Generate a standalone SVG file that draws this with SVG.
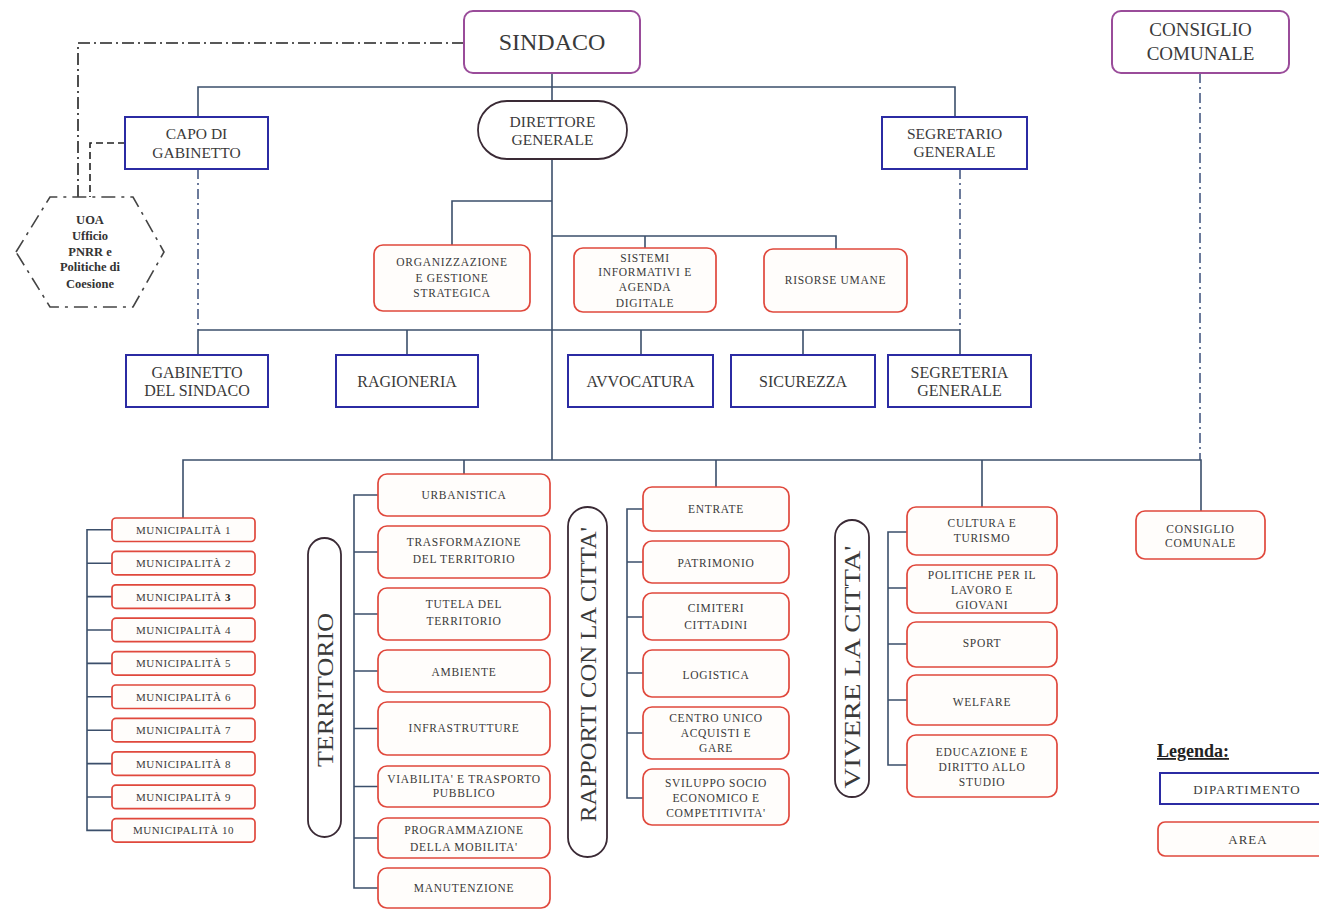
<svg xmlns="http://www.w3.org/2000/svg" width="1319" height="910" viewBox="0 0 1319 910">
<style>
.bg{fill:#ffffff}
.conn{stroke:#3b4f6b;stroke-width:1.6;fill:none}
.dd{stroke:#222;stroke-width:1.6;fill:none;stroke-dasharray:12,4,2,4}
.ddb{stroke:#3b4f7b;stroke-width:1.5;fill:none;stroke-dasharray:10,4,2,4}
.dash{stroke:#222;stroke-width:1.6;fill:none;stroke-dasharray:7,4}
.dept{fill:#ffffff;stroke:#2b2ba3;stroke-width:2}
.area{fill:#fffdfb;stroke:#e0483c;stroke-width:1.7}
.top{fill:#ffffff;stroke:#9a4c9a;stroke-width:2}
.pill{fill:#ffffff;stroke:#3a2a35;stroke-width:1.8}
.hex{fill:#ffffff;stroke:#444;stroke-width:1.6;stroke-dasharray:14,6,3,6}
.t{font-family:"Liberation Serif","Times New Roman",serif;fill:#3a3a3a;text-anchor:middle;dominant-baseline:central}
.big{font-size:24px}
.h1{font-size:19px}
.h2{font-size:15.5px}
.h3{font-size:16px}
.s{font-size:11.5px;letter-spacing:0.7px}
.m{font-size:11px;letter-spacing:0.6px}
.rot{font-size:24px}
.hx{font-size:12.5px;font-weight:bold;fill:#333}
.leg{font-size:18px;font-weight:bold;fill:#222;text-decoration:underline;font-family:"Liberation Serif","Times New Roman",serif}
.l{font-size:13px;letter-spacing:1px}
</style>
<rect class="bg" x="0" y="0" width="1319" height="910"/>

<g id="connectors">
  <!-- dash-dot from Sindaco to UOA -->
  <path class="dd" d="M464,43 H78 V197"/>
  <path class="dash" d="M125,143 H90 V197"/>
  <!-- top tree -->
  <path class="conn" d="M552,73 V101"/>
  <path class="conn" d="M198,117 V87 H955 V117"/>
  <path class="conn" d="M552,159 V460"/>
  <path class="conn" d="M552,201 H452 V245"/>
  <path class="conn" d="M552,236 H836 V249"/>
  <path class="conn" d="M645,236 V248"/>
  <!-- dash-dot verticals -->
  <path class="ddb" d="M198,169 V330"/>
  <path class="ddb" d="M960,169 V330"/>
  <path class="ddb" d="M1200,73 V460"/>
  <!-- middle row -->
  <path class="conn" d="M198,330 H960"/>
  <path class="conn" d="M198,330 V355 M407,330 V355 M641,330 V355 M803,330 V355 M960,330 V355"/>
  <!-- lower row -->
  <path class="conn" d="M183,518 V460 H1201 V511"/>
  <path class="conn" d="M464,460 V474 M716,460 V487 M982,460 V507"/>
  <!-- municipalita bracket -->
  <path class="conn" d="M112,529.8 H87 V830.4 H112 M87,563.2 H112 M87,596.6 H112 M87,630 H112 M87,663.4 H112 M87,696.8 H112 M87,730.2 H112 M87,763.6 H112 M87,797 H112"/>
  <!-- territorio bracket -->
  <path class="conn" d="M378,495 H354 V888 H378 M354,552 H378 M354,614 H378 M354,671 H378 M354,728.5 H378 M354,786.5 H378 M354,838 H378"/>
  <!-- rapporti bracket -->
  <path class="conn" d="M643,509 H627 V798 H643 M627,562 H643 M627,617 H643 M627,673 H643 M627,733 H643"/>
  <!-- vivere bracket -->
  <path class="conn" d="M907,532 H888 V765 H907 M888,588 H907 M888,644 H907 M888,700 H907"/>
</g>

<g id="sindaco">
  <rect class="top" x="464" y="11" width="176" height="62" rx="9"/>
  <text class="t big" x="552" y="42">SINDACO</text>
</g>
<g id="consiglio-comunale-top">
  <rect class="top" x="1112" y="11" width="177" height="62" rx="9"/>
  <text class="t h1" x="1200.5" y="29">CONSIGLIO</text>
  <text class="t h1" x="1200.5" y="53">COMUNALE</text>
</g>
<g id="uoa">
  <polygon class="hex" points="16,252 50,197 133,197 164,252 133,307 50,307"/>
  <text class="t hx" x="90" y="220">UOA</text>
  <text class="t hx" x="90" y="236">Ufficio</text>
  <text class="t hx" x="90" y="252">PNRR e</text>
  <text class="t hx" x="90" y="267">Politiche di</text>
  <text class="t hx" x="90" y="284">Coesione</text>
</g>
<g id="capo-gabinetto">
  <rect class="dept" x="125" y="117" width="143" height="52"/>
  <text class="t h2" x="196.5" y="133">CAPO DI</text>
  <text class="t h2" x="196.5" y="152">GABINETTO</text>
</g>
<g id="direttore-generale">
  <rect class="pill" x="478" y="101" width="149" height="58" rx="29"/>
  <text class="t h2" x="552.5" y="121">DIRETTORE</text>
  <text class="t h2" x="552.5" y="139">GENERALE</text>
</g>
<g id="segretario-generale">
  <rect class="dept" x="882" y="117" width="145" height="52"/>
  <text class="t h2" x="954.5" y="133">SEGRETARIO</text>
  <text class="t h2" x="954.5" y="151">GENERALE</text>
</g>

<g id="organizzazione">
  <rect class="area" x="374" y="245" width="156" height="66" rx="9"/>
  <text class="t s" x="452" y="262">ORGANIZZAZIONE</text>
  <text class="t s" x="452" y="278">E GESTIONE</text>
  <text class="t s" x="452" y="293">STRATEGICA</text>
</g>
<g id="sistemi-informativi">
  <rect class="area" x="574" y="248" width="142" height="64" rx="9"/>
  <text class="t s" x="645" y="258">SISTEMI</text>
  <text class="t s" x="645" y="272">INFORMATIVI E</text>
  <text class="t s" x="645" y="287">AGENDA</text>
  <text class="t s" x="645" y="303">DIGITALE</text>
</g>
<g id="risorse-umane">
  <rect class="area" x="764" y="249" width="143" height="63" rx="9"/>
  <text class="t s" x="835.5" y="280">RISORSE UMANE</text>
</g>

<g id="gabinetto-sindaco">
  <rect class="dept" x="126" y="355" width="142" height="52"/>
  <text class="t h3" x="197" y="372">GABINETTO</text>
  <text class="t h3" x="197" y="390">DEL SINDACO</text>
</g>
<g id="ragioneria">
  <rect class="dept" x="336" y="355" width="142" height="52"/>
  <text class="t h3" x="407" y="381">RAGIONERIA</text>
</g>
<g id="avvocatura">
  <rect class="dept" x="568" y="355" width="145" height="52"/>
  <text class="t h3" x="640.5" y="381">AVVOCATURA</text>
</g>
<g id="sicurezza">
  <rect class="dept" x="731" y="355" width="144" height="52"/>
  <text class="t h3" x="803" y="381">SICUREZZA</text>
</g>
<g id="segreteria-generale">
  <rect class="dept" x="888" y="355" width="143" height="52"/>
  <text class="t h3" x="959.5" y="372">SEGRETERIA</text>
  <text class="t h3" x="959.5" y="390">GENERALE</text>
</g>

<g id="municipalita">
  <g id="mun1"><rect class="area" x="112" y="518" width="143" height="23.5" rx="4"/><text class="t m" x="183.5" y="529.8">MUNICIPALITÀ 1</text></g>
  <g id="mun2"><rect class="area" x="112" y="551.4" width="143" height="23.5" rx="4"/><text class="t m" x="183.5" y="563.2">MUNICIPALITÀ 2</text></g>
  <g id="mun3"><rect class="area" x="112" y="584.8" width="143" height="23.5" rx="4"/><text class="t m" x="183.5" y="596.6">MUNICIPALITÀ <tspan font-weight="bold" fill="#222">3</tspan></text></g>
  <g id="mun4"><rect class="area" x="112" y="618.2" width="143" height="23.5" rx="4"/><text class="t m" x="183.5" y="630">MUNICIPALITÀ 4</text></g>
  <g id="mun5"><rect class="area" x="112" y="651.6" width="143" height="23.5" rx="4"/><text class="t m" x="183.5" y="663.4">MUNICIPALITÀ 5</text></g>
  <g id="mun6"><rect class="area" x="112" y="685" width="143" height="23.5" rx="4"/><text class="t m" x="183.5" y="696.8">MUNICIPALITÀ 6</text></g>
  <g id="mun7"><rect class="area" x="112" y="718.4" width="143" height="23.5" rx="4"/><text class="t m" x="183.5" y="730.2">MUNICIPALITÀ 7</text></g>
  <g id="mun8"><rect class="area" x="112" y="751.8" width="143" height="23.5" rx="4"/><text class="t m" x="183.5" y="763.6">MUNICIPALITÀ 8</text></g>
  <g id="mun9"><rect class="area" x="112" y="785.2" width="143" height="23.5" rx="4"/><text class="t m" x="183.5" y="797">MUNICIPALITÀ 9</text></g>
  <g id="mun10"><rect class="area" x="112" y="818.6" width="143" height="23.5" rx="4"/><text class="t m" x="183.5" y="830.4">MUNICIPALITÀ 10</text></g>
</g>

<g id="territorio">
  <rect class="pill" x="308" y="538" width="33" height="299" rx="16.5"/>
  <text class="t rot" transform="translate(325,690) rotate(-90)" x="0" y="0" textLength="154" lengthAdjust="spacingAndGlyphs">TERRITORIO</text>
</g>
<g id="urbanistica"><rect class="area" x="378" y="474" width="172" height="42" rx="9"/><text class="t s" x="464" y="495">URBANISTICA</text></g>
<g id="trasformazione"><rect class="area" x="378" y="526" width="172" height="52" rx="9"/><text class="t s" x="464" y="542">TRASFORMAZIONE</text><text class="t s" x="464" y="559">DEL TERRITORIO</text></g>
<g id="tutela"><rect class="area" x="378" y="588" width="172" height="52" rx="9"/><text class="t s" x="464" y="604">TUTELA DEL</text><text class="t s" x="464" y="621">TERRITORIO</text></g>
<g id="ambiente"><rect class="area" x="378" y="650" width="172" height="42" rx="9"/><text class="t s" x="464" y="672">AMBIENTE</text></g>
<g id="infrastrutture"><rect class="area" x="378" y="702" width="172" height="53" rx="9"/><text class="t s" x="464" y="728">INFRASTRUTTURE</text></g>
<g id="viabilita"><rect class="area" x="378" y="766" width="172" height="41" rx="9"/><text class="t s" x="464" y="779" font-size="10.5px">VIABILITA' E TRASPORTO</text><text class="t s" x="464" y="793" font-size="10.5px">PUBBLICO</text></g>
<g id="programmazione"><rect class="area" x="378" y="818" width="172" height="40" rx="9"/><text class="t s" x="464" y="830">PROGRAMMAZIONE</text><text class="t s" x="464" y="847">DELLA MOBILITA'</text></g>
<g id="manutenzione"><rect class="area" x="378" y="868" width="172" height="40" rx="9"/><text class="t s" x="464" y="888">MANUTENZIONE</text></g>

<g id="rapporti">
  <rect class="pill" x="568" y="507" width="39" height="350" rx="19.5"/>
  <text class="t rot" transform="translate(587.5,674.5) rotate(-90)" x="0" y="0" textLength="295" lengthAdjust="spacingAndGlyphs">RAPPORTI CON LA CITTA'</text>
</g>
<g id="entrate"><rect class="area" x="643" y="487" width="146" height="44" rx="9"/><text class="t s" x="716" y="509">ENTRATE</text></g>
<g id="patrimonio"><rect class="area" x="643" y="541" width="146" height="42" rx="9"/><text class="t s" x="716" y="563">PATRIMONIO</text></g>
<g id="cimiteri"><rect class="area" x="643" y="593" width="146" height="47" rx="9"/><text class="t s" x="716" y="608">CIMITERI</text><text class="t s" x="716" y="625">CITTADINI</text></g>
<g id="logistica"><rect class="area" x="643" y="650" width="146" height="47" rx="9"/><text class="t s" x="716" y="675">LOGISTICA</text></g>
<g id="centro-unico"><rect class="area" x="643" y="707" width="146" height="52" rx="9"/><text class="t s" x="716" y="718">CENTRO UNICO</text><text class="t s" x="716" y="733">ACQUISTI E</text><text class="t s" x="716" y="748">GARE</text></g>
<g id="sviluppo"><rect class="area" x="643" y="769" width="146" height="56" rx="9"/><text class="t s" x="716" y="783">SVILUPPO SOCIO</text><text class="t s" x="716" y="798">ECONOMICO E</text><text class="t s" x="716" y="813">COMPETITIVITA'</text></g>

<g id="vivere">
  <rect class="pill" x="835" y="520" width="34" height="277" rx="17"/>
  <text class="t rot" transform="translate(852,667) rotate(-90)" x="0" y="0" textLength="243" lengthAdjust="spacingAndGlyphs">VIVERE LA CITTA'</text>
</g>
<g id="cultura"><rect class="area" x="907" y="507" width="150" height="48" rx="9"/><text class="t s" x="982" y="523">CULTURA E</text><text class="t s" x="982" y="538">TURISMO</text></g>
<g id="politiche"><rect class="area" x="907" y="565" width="150" height="48" rx="9"/><text class="t s" x="982" y="575">POLITICHE PER IL</text><text class="t s" x="982" y="590">LAVORO E</text><text class="t s" x="982" y="605">GIOVANI</text></g>
<g id="sport"><rect class="area" x="907" y="622" width="150" height="45" rx="9"/><text class="t s" x="982" y="643">SPORT</text></g>
<g id="welfare"><rect class="area" x="907" y="675" width="150" height="50" rx="9"/><text class="t s" x="982" y="702">WELFARE</text></g>
<g id="educazione"><rect class="area" x="907" y="735" width="150" height="62" rx="9"/><text class="t s" x="982" y="752">EDUCAZIONE E</text><text class="t s" x="982" y="767">DIRITTO ALLO</text><text class="t s" x="982" y="782">STUDIO</text></g>

<g id="consiglio-comunale-area">
  <rect class="area" x="1136" y="511" width="129" height="48" rx="9"/>
  <text class="t s" x="1200.5" y="529">CONSIGLIO</text>
  <text class="t s" x="1200.5" y="543">COMUNALE</text>
</g>

<g id="legenda">
  <text class="leg" x="1157" y="757">Legenda:</text>
  <rect class="dept" x="1160" y="773" width="170" height="31"/>
  <text class="t l" x="1247" y="789">DIPARTIMENTO</text>
  <rect class="area" x="1158" y="822" width="170" height="34" rx="7"/>
  <text class="t l" x="1248" y="839">AREA</text>
</g>
</svg>
